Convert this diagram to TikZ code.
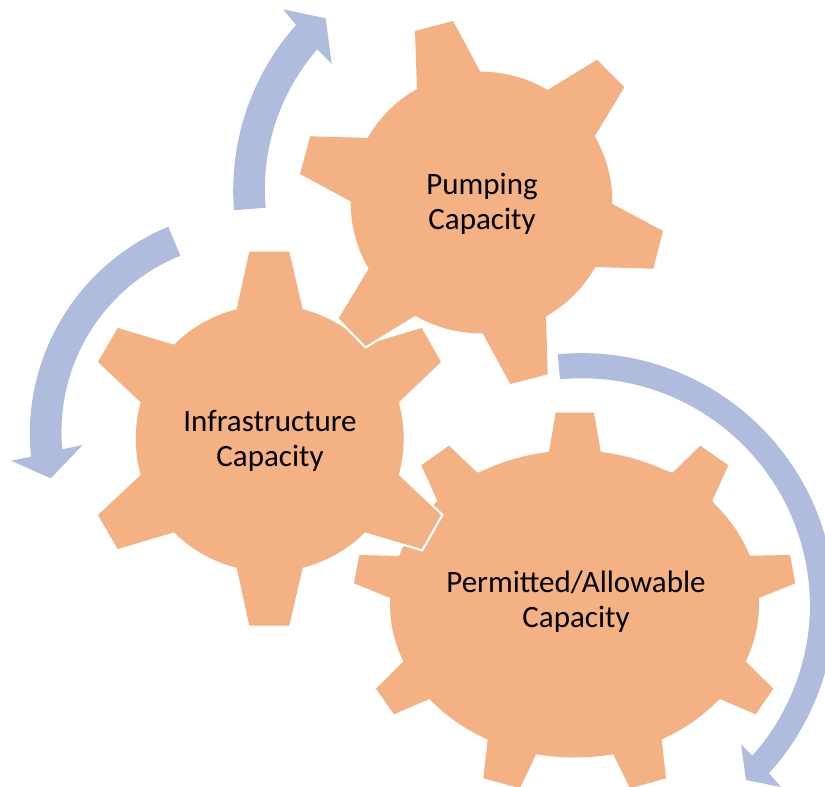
\documentclass[tikz,border=0pt]{standalone}
\usepackage{fontspec}
\setmainfont{Carlito}
\definecolor{gearfill}{HTML}{F4B183}
\definecolor{arrowfill}{HTML}{AFBCDD}
\tikzset{
  gearbody/.style={fill=gearfill,preaction={draw=white,line width=4.4pt,line join=miter}},
  gearplain/.style={fill=gearfill,draw=none},
  arrowbody/.style={fill=arrowfill,draw=none},
  geararc/.style={bend left=15.5,looseness=0.87},
  gearlabel/.style={align=center,text=black,inner sep=0pt,font=\fontsize{31}{35}\selectfont}
}
\begin{document}
\begin{tikzpicture}[x=1pt,y=-1pt]
\path[use as bounding box] (0,0) rectangle (825,787);
\clip (0,0) rectangle (825,787);
% arrows
\path[arrowbody] (234,210.3) to[bend left=23,looseness=0.89] (296,25) -- (283,9.3) -- (325.7,18.3) -- (331.7,64) -- (317.3,49.3) to[bend right=23,looseness=0.89] (265.7,207.7) -- cycle;
\path[arrowbody] (168.3,226.7) to[bend right=36.7,looseness=0.945] (31,456.7) -- (11,460.7) -- (50.7,478.3) -- (82.7,445) -- (62.3,449.3) to[bend left=36.7,looseness=0.945] (180.3,255.7) -- cycle;
\path[arrowbody] (557.7,354.3) to[bend left=47.7,looseness=1.02] (835,607) to[bend left=20.5,looseness=0.88] (769,773.3) -- (781,787) -- (746,780) -- (741,744.3) -- (752.3,755.7) to[bend right=20.5,looseness=0.88] (810,607) to[bend right=47.7,looseness=1.02] (560,379.3) -- cycle;
% permitted gear
\fill[gearplain] (574.5,604) ellipse [x radius=184.5pt,y radius=153.5pt];
\path[gearplain] (549,451.7) -- (555.7,412.7) -- (594,412.7) -- (600.7,451.7) -- (672.7,472.7) -- (700.3,445.7) -- (728.3,465.3) -- (712.3,500.7) -- (750,555.7) -- (790,555) -- (795.3,583.3) -- (759,598) -- (746,661.7) -- (773.3,688.7) -- (755.7,714.3) -- (720,699) -- (661.7,739.3) -- (666,778.3) -- (630,788.3) -- (613.3,754.3) -- (536,754.3) -- (520,788.3) -- (483.3,778.3) -- (487.7,739.3) -- (429.3,699) -- (394,714.3) -- (376,688.7) -- (403.3,661.7) -- (390.3,598) -- (354,583.3) -- (359.3,555) -- (399.3,556) -- (437.3,500.7) -- (421.3,465.3) -- (449,445.7) -- (477.3,472.7) -- cycle;
% infrastructure gear
\path[gearbody] (249.3,251.7) -- (289.3,251.7) -- (302.7,309.3) to[geararc] (365,345) -- (421.7,328) -- (441,362) -- (398.7,402.3) to[geararc] (398.7,475) -- (441,515) -- (421.7,549) -- (365,532.3) to[geararc] (302.7,567.7) -- (289.3,625.7) -- (249.3,625.7) -- (236.7,567.7) to[geararc] (174,532.3) -- (117.7,549) -- (98,515) -- (140.7,475) to[geararc] (140.7,402.3) -- (98,362) -- (117.7,328) -- (174,344.7) to[geararc] (236.7,309.3) -- cycle;
% pumping gear
\path[gearbody] (415,31) -- (453,21) -- (480.3,71.7) to[geararc] (547.7,90) -- (597,59.7) -- (624.3,87.3) -- (594.7,136.3) to[geararc] (612.3,204) -- (663,231) -- (653.3,268.7) -- (595.3,267) to[geararc] (546,316.3) -- (547.7,374.3) -- (510.3,384) -- (482.7,333.3) to[geararc] (415.3,315.7) -- (365.7,346) -- (338.7,318.3) -- (368.7,268.7) to[geararc] (350.7,201.3) -- (300,174) -- (310.3,136.3) -- (367.7,138) to[geararc] (417,89) -- cycle;
% labels
\node[gearlabel] (pumping) at (482,204) {Pumping\\Capacity};
\node[gearlabel] (infra) at (270,440.5) {Infrastructure\\Capacity};
\node[gearlabel] (permitted) at (576,602) {Permitted/Allowable\\Capacity};
\end{tikzpicture}
\end{document}
